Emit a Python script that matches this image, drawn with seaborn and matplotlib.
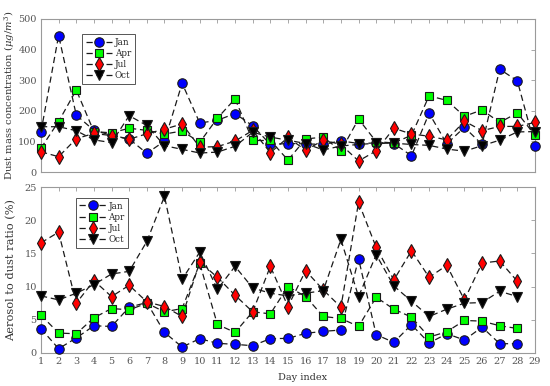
import numpy as np
import pandas as pd
import seaborn as sns
from matplotlib import pyplot as plt

# values
days_dust = list(range(1, 30))
days_ratio = list(range(1, 29))

jan_dust = [131, 446, 186, 136, 120, 108, 61, 101, 290, 160, 169, 191, 151, 90, 93,
            92, 90, 102, 93, 95, 93, 53, 192, 92, 146, 90, 336, 298, 85]
apr_dust = [78, 165, 268, 132, 128, 143, 136, 124, 134, 97, 176, 239, 103, 103, 39,
            108, 114, 69, 173, 99, 95, 120, 249, 234, 182, 203, 162, 193, 120]
jul_dust = [66, 50, 109, 126, 119, 107, 125, 140, 157, 81, 83, 101, 136, 63, 113,
            71, 104, 90, 36, 69, 143, 124, 117, 105, 166, 135, 149, 149, 162]
oct_dust = [148, 148, 135, 105, 96, 184, 152, 86, 74, 62, 65, 84, 130, 114, 104,
            93, 72, 85, 90, 94, 94, 90, 87, 75, 68, 86, 104, 131, 132]

jan_ratio = [3.66, 0.65, 2.26, 4.1, 4.0, 6.9, 7.6, 3.1, 0.9, 2.16, 1.46, 1.3, 1.1, 2.16,
             2.2, 2.96, 3.26, 3.46, 14.2, 2.76, 1.6, 4.27, 1.5, 2.9, 1.96, 3.9, 1.4, 1.4]
apr_ratio = [5.7, 3.0, 2.9, 5.3, 6.7, 6.5, 7.5, 6.2, 6.7, 13.5, 4.3, 3.1, 6.2, 5.9,
             10.0, 8.5, 5.5, 5.2, 4.0, 8.4, 6.6, 5.4, 2.4, 3.2, 4.9, 4.8, 4.1, 3.7]
jul_ratio = [16.6, 18.2, 7.5, 10.9, 8.5, 10.2, 7.7, 7.0, 5.5, 13.7, 11.4, 8.7, 6.2, 13.05,
             7.0, 12.4, 9.5, 6.9, 22.7, 15.9, 11.0, 15.4, 11.4, 13.2, 8.0, 13.55, 13.86, 10.8]
oct_ratio = [8.6, 8.0, 9.0, 10.3, 11.9, 12.3, 16.8, 23.6, 11.1, 15.2, 9.6, 13.05, 9.8, 9.0,
             8.6, 9.0, 9.4, 17.1, 8.5, 14.8, 10.1, 7.8, 5.5, 6.6, 7.5, 7.6, 9.3, 8.5]

months = ["Jan", "Apr", "Jul", "Oct"]
styles = {"Jan": ("o", "#0000ff", 6.8),
          "Apr": ("s", "#00ff00", 5.2),
          "Jul": ("d", "#ff0000", 7.2),
          "Oct": ("v", "#000000", 7.2)}

sns.set_theme(style="white")
plt.rcParams["font.family"] = ["DejaVu Serif"]
plt.rcParams["mathtext.fontset"] = "dejavuserif"

spine_c = "#9a9a9a"
text_c = "#555555"

fig = plt.figure(figsize=(5.5, 3.86), dpi=100)
ax1 = fig.add_axes([0.0745, 0.5544, 0.8982, 0.3964])
ax2 = fig.add_axes([0.0745, 0.0855, 0.8982, 0.4300])


def draw(ax, days, series):
    for m, vals in zip(months, series):
        mk, fc, ms = styles[m]
        sns.lineplot(x=days, y=vals, ax=ax, color="k", linestyle=(0, (5, 3)),
                     linewidth=0.9, marker=mk, markersize=ms, markerfacecolor=fc,
                     markeredgecolor="k", markeredgewidth=0.8, label=m,
                     clip_on=False, zorder=3)


draw(ax1, days_dust, [jan_dust, apr_dust, jul_dust, oct_dust])
draw(ax2, days_ratio, [jan_ratio, apr_ratio, jul_ratio, oct_ratio])

for ax in (ax1, ax2):
    ax.set_xlim(1, 29)
    ax.set_xticks(range(1, 30))
    ax.tick_params(direction="in", top=True, right=True, length=3, width=0.6,
                   color=spine_c, labelcolor=text_c, labelsize=7, pad=3)
    for s in ax.spines.values():
        s.set_color(spine_c)
        s.set_linewidth(0.8)
    leg = ax.legend(loc="upper left", fontsize=6.3, handlelength=3.0,
                    handletextpad=0.3, labelspacing=0.25, borderpad=0.4,
                    fancybox=False, framealpha=1, edgecolor="#555555")
    leg.get_frame().set_linewidth(0.7)
    leg.set_zorder(5)

ax1.set_ylim(0, 500)
ax1.set_yticks(range(0, 501, 100))
ax1.tick_params(labelbottom=False)
ax1.set_ylabel("Dust mass concentration ($\\mu g/m^3$)", fontsize=7.2, color="#333333",
               labelpad=1)
ax1.legend_.set_bbox_to_anchor((0.075, 0.93))

ax2.set_ylim(0, 25)
ax2.set_yticks(range(0, 26, 5))
ax2.set_ylabel("Aerosol to dust ratio (%)", fontsize=8.2, color="#333333", labelpad=6)
ax2.set_xlabel("Day index", fontsize=7, color="#333333", labelpad=2)
ax2.xaxis.set_label_coords(0.53, -0.12)
ax2.legend_.set_bbox_to_anchor((0.062, 0.96))

fig.savefig("out.png", dpi=100)
